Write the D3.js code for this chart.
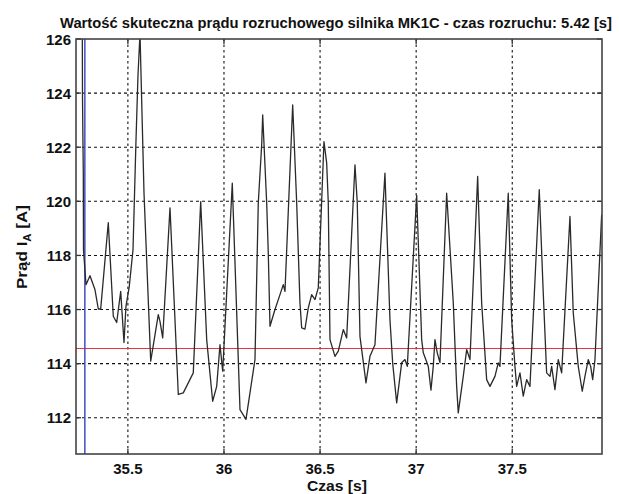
<!DOCTYPE html>
<html><head><meta charset="utf-8">
<script src="https://cdn.jsdelivr.net/npm/d3@7"></script>
<style>body{margin:0;background:#fff;}svg{display:block;}</style>
</head><body>
<svg id="c" width="619" height="494"></svg>
<script>
const titleText = "Wartość skuteczna prądu rozruchowego silnika MK1C - czas rozruchu: 5.42 [s]";
const xTicks = [35.5, 36, 36.5, 37, 37.5];
const xTickLabels = ["35.5", "36", "36.5", "37", "37.5"];
const yTicks = [112, 114, 116, 118, 120, 122, 124, 126];
const yTickLabels = ["112", "114", "116", "118", "120", "122", "124", "126"];
const startTime = 35.276;   // blue marker
const meanCurrent = 114.56; // red line
const time = [35.2628,35.2638,35.268,35.269,35.282,35.3028,35.3289,35.346,35.3585,35.398,35.424,35.4418,35.4626,35.4797,35.490,35.5073,35.5266,35.5422,35.5526,35.563,35.5838,35.6187,35.6582,35.667,35.6811,35.7191,35.7623,35.7883,35.8403,35.8788,35.910,35.9412,35.9621,35.9792,35.9933,36.0432,36.0833,36.1145,36.1613,36.1785,36.1962,36.2014,36.2222,36.2305,36.2394,36.2654,36.2914,36.3086,36.3174,36.3575,36.3783,36.3954,36.4043,36.4215,36.4386,36.4563,36.4735,36.4907,36.5203,36.5344,36.5427,36.5516,36.5776,36.5948,36.6208,36.6384,36.6816,36.6936,36.7076,36.7389,36.7595,36.7856,36.8376,36.8636,36.8777,36.8986,36.9246,36.9418,36.9538,37.0027,37.0287,37.037,37.063,37.077,37.089,37.0978,37.1098,37.1239,37.1587,37.1931,37.2107,37.219,37.2451,37.2628,37.28,37.32,37.3408,37.3668,37.384,37.41,37.4272,37.436,37.4792,37.4969,37.5141,37.5229,37.5401,37.5573,37.5749,37.5921,37.6405,37.6613,37.6789,37.6962,37.705,37.7222,37.7394,37.7571,37.8003,37.8175,37.8435,37.8643,37.8783,37.8955,37.9080,37.9184,37.9304,37.9652];
const current = [126.4,123.82,121.05,118.21,116.92,117.25,116.73,116.02,116.02,119.21,115.75,115.52,116.67,114.78,116.12,116.86,118.21,122.27,124.67,126.2,120.32,114.09,115.81,115.56,114.95,119.76,112.86,112.92,113.66,119.99,114.89,112.61,113.16,114.70,113.72,120.67,112.30,111.94,114.15,119.94,122.09,123.19,119.95,118.09,115.38,116.00,116.55,116.92,116.67,123.56,119.95,116.24,115.32,115.28,116.06,116.55,116.37,116.80,122.21,121.41,119.95,114.89,114.27,114.46,115.26,114.95,121.35,119.95,115.01,113.29,114.27,114.70,121.04,115.63,114.03,112.55,114.03,114.15,113.90,120.22,114.89,114.40,113.90,113.02,113.90,114.89,114.40,114.04,120.30,116.25,113.16,112.18,113.53,114.52,114.15,120.92,116.24,113.41,113.16,113.53,114.03,113.90,120.30,115.63,113.90,113.16,113.66,112.80,113.41,113.16,120.43,116.61,113.66,113.53,113.90,113.04,114.15,113.66,119.44,115.87,113.90,112.98,113.53,114.15,113.90,113.41,114.15,119.50];

const svg = d3.select("#c");
const L = 76, R = 602, T = 39, B = 454;
const x = d3.scaleLinear().domain([35.23, 37.967]).range([L, R]);
const y = d3.scaleLinear().domain([110.66, 126]).range([B, T]);
const tickFont = "'Liberation Sans', Arial, sans-serif";

svg.append("defs").append("clipPath").attr("id","clip")
  .append("rect").attr("x",L).attr("y",T).attr("width",R-L).attr("height",B-T);

// grid
const g = svg.append("g");
g.selectAll("line.gx").data(xTicks).enter().append("line")
  .attr("x1", d=>x(d)).attr("x2", d=>x(d)).attr("y1", T).attr("y2", B)
  .attr("stroke","#111").attr("stroke-width",1.1).attr("stroke-dasharray","2.5,3");
g.selectAll("line.gy").data(yTicks.filter(d=>d<126)).enter().append("line")
  .attr("x1", L).attr("x2", R).attr("y1", d=>y(d)).attr("y2", d=>y(d))
  .attr("stroke","#111").attr("stroke-width",1.1).attr("stroke-dasharray","3,3");

// inward ticks
const tl = 5;
xTicks.forEach(d=>{
  g.append("line").attr("x1",x(d)).attr("x2",x(d)).attr("y1",B).attr("y2",B-tl).attr("stroke","#333").attr("stroke-width",1.3);
  g.append("line").attr("x1",x(d)).attr("x2",x(d)).attr("y1",T).attr("y2",T+tl).attr("stroke","#333").attr("stroke-width",1.3);
});
yTicks.forEach(d=>{
  g.append("line").attr("x1",L).attr("x2",L+tl).attr("y1",y(d)).attr("y2",y(d)).attr("stroke","#333").attr("stroke-width",1.3);
  g.append("line").attr("x1",R).attr("x2",R-tl).attr("y1",y(d)).attr("y2",y(d)).attr("stroke","#333").attr("stroke-width",1.3);
});

// red mean line & blue marker
svg.append("line").attr("x1",L).attr("x2",R).attr("y1",y(meanCurrent)).attr("y2",y(meanCurrent))
  .attr("stroke","#e8353d").attr("stroke-width",1.2);
svg.append("line").attr("x1",x(startTime)).attr("x2",x(startTime)).attr("y1",T).attr("y2",B)
  .attr("stroke","#3f4fc0").attr("stroke-width",1.5);

// data line
const pts = time.map((t,i)=>[t, current[i]]);
svg.append("path").datum(pts).attr("clip-path","url(#clip)")
  .attr("d", d3.line().x(d=>x(d[0])).y(d=>y(d[1])))
  .attr("fill","none").attr("stroke","#2a2a2a").attr("stroke-width",1.3).attr("stroke-linejoin","round");

// box
svg.append("rect").attr("x",L).attr("y",T).attr("width",R-L).attr("height",B-T)
  .attr("fill","none").attr("stroke","#444").attr("stroke-width",1.6);

// tick labels
svg.selectAll("text.xt").data(xTicks).enter().append("text")
  .attr("x", d=>x(d)).attr("y", 473.5).attr("text-anchor","middle")
  .attr("font-family",tickFont).attr("font-weight","bold").attr("font-size",15).attr("fill","#111")
  .text((d,i)=>xTickLabels[i]);
svg.selectAll("text.yt").data(yTicks).enter().append("text")
  .attr("x", 71).attr("y", d=>y(d)+5.5).attr("text-anchor","end")
  .attr("font-family",tickFont).attr("font-weight","bold").attr("font-size",15).attr("fill","#111")
  .text((d,i)=>yTickLabels[i]);

// title
svg.append("text").attr("x",336).attr("y",27.5).attr("text-anchor","middle")
  .attr("font-family",tickFont).attr("font-weight","bold").attr("font-size",14.5).attr("fill","#111")
  .attr("textLength",552).attr("lengthAdjust","spacingAndGlyphs")
  .text(titleText);

// x label
svg.append("text").attr("x",337).attr("y",491).attr("text-anchor","middle")
  .attr("font-family",tickFont).attr("font-weight","bold").attr("font-size",15).attr("fill","#111")
  .attr("textLength",60).attr("lengthAdjust","spacingAndGlyphs")
  .text("Czas [s]");

// y label
const yl = svg.append("text").attr("transform","translate(27,247) rotate(-90)").attr("text-anchor","middle")
  .attr("font-family",tickFont).attr("font-weight","bold").attr("font-size",15).attr("fill","#111")
  .attr("textLength",84).attr("lengthAdjust","spacingAndGlyphs");
yl.append("tspan").text("Prąd I");
yl.append("tspan").attr("font-size",10).attr("dy",4).text("A");
yl.append("tspan").attr("dy",-4).text(" [A]");
</script>
</body></html>
